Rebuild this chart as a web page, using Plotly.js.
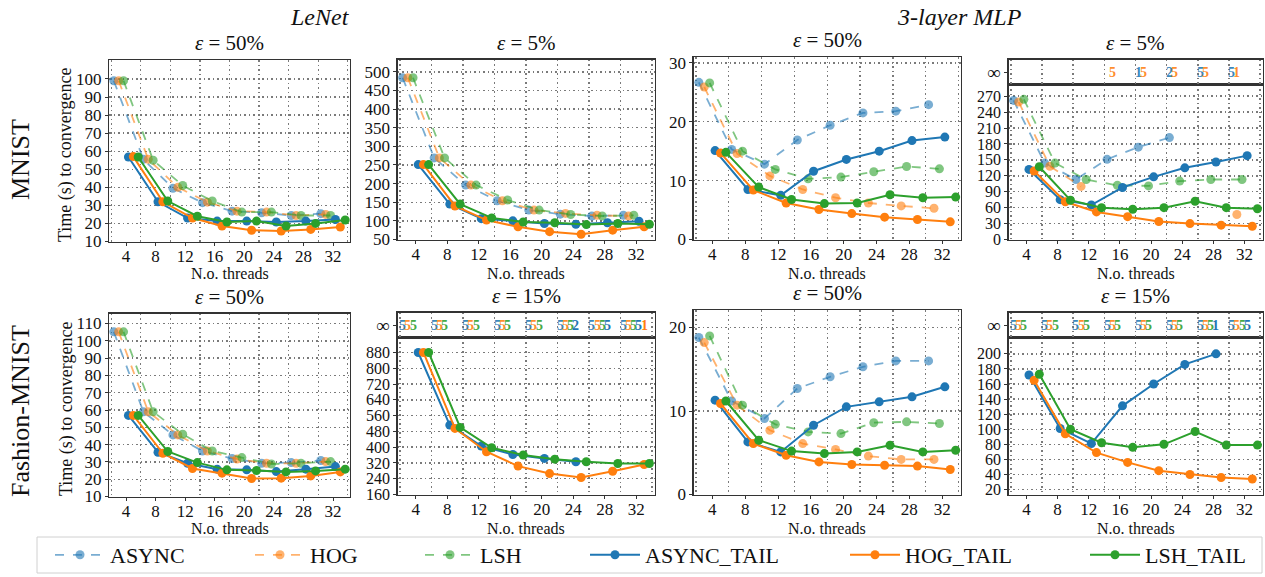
<!DOCTYPE html>
<html><head><meta charset="utf-8">
<script src="https://cdn.plot.ly/plotly-3.0.1.min.js"></script>
<style>html,body{margin:0;padding:0;background:#fff}#chart{width:1265px;height:577px}</style>
</head><body><div id="chart"></div>
<script>
// ---------------- DATA ----------------
const seriesNames = ['ASYNC', 'HOG', 'LSH', 'ASYNC_TAIL', 'HOG_TAIL', 'LSH_TAIL'];
const threads = [4, 8, 12, 16, 20, 24, 28, 32];
const panelTitles = ['50%', '5%', '50%', '5%', '50%', '15%', '50%', '15%'];
const columnHeaders = ['LeNet', '3-layer MLP'];
const rowLabels = ['MNIST', 'Fashion-MNIST'];

// rows: ASYNC, HOG, LSH, ASYNC_TAIL, HOG_TAIL, LSH_TAIL  (values per thread count)
const lenetMnistE50 = [
  [99, 55.5, 39.5, 31.5, 26.8, 25.9, 24.4, 25.4],
  [99, 55.5, 40, 31.8, 26.8, 26.3, 24.4, 25],
  [99, 55, 41, 32.4, 26.3, 26.3, 24.4, 24.4],
  [56.8, 32, 23, 21.3, 21.3, 20.8, 21.3, 22.2],
  [57, 32, 23, 18.6, 16.2, 15.8, 16.7, 18],
  [56.8, 32.4, 24, 20.8, 21.3, 18.6, 20, 21.9]
];
const lenetMnistE5 = [
  [484, 269, 196, 154, 129, 118, 113, 115],
  [484, 269, 196, 154, 129, 120, 115, 113],
  [484, 269, 196, 156, 129, 117, 113, 115],
  [251, 145, 106, 100, 93, 91, 95, 99],
  [251, 140, 102, 84, 71, 64, 75, 84],
  [251, 145, 108, 97, 95, 90, 93, 91]
];
const mlpMnistE50 = [
  [26.7, 15.3, 12.8, 16.9, 19.4, 21.5, 21.8, 22.9],
  [25.9, 14.6, 10.8, 8.5, 7.1, 6.2, 5.7, 5.3],
  [26.6, 15, 11.9, 10.3, 10.6, 11.5, 12.4, 12],
  [15.1, 8.5, 7.5, 11.6, 13.6, 15, 16.8, 17.4],
  [14.7, 8.4, 6.2, 5.1, 4.4, 3.8, 3.4, 3.0],
  [14.8, 8.9, 6.8, 6.1, 6.2, 7.6, 7.1, 7.2]
];
const mlpMnistE5 = [
  [262, 144, 113, 151, 174, 192, null, null],
  [259, 138, 100, null, null, null, null, 47],
  [264, 144, 113, 102, 101, 110, 113, 113],
  [132, 75, 65, 98, 118, 135, 146, 158],
  [129, 71, 52, 43, 34, 30, 27, 25],
  [137, 74, 60, 57, 60, 72, 60, 58]
];
const lenetFashionE50 = [
  [105.2, 59, 45.6, 36.3, 32, 29.2, 29.6, 30.8],
  [105.2, 59, 45.6, 36.3, 31.7, 29.2, 29.2, 30.2],
  [105.2, 59, 46, 36.3, 32.5, 28.8, 29.2, 30.2],
  [56.9, 35.6, 29.2, 25.8, 25.4, 24.4, 25.8, 27.3],
  [56.9, 35, 26.2, 23.5, 20.4, 20.6, 21.9, 24.2],
  [56.9, 36, 29.6, 25.4, 25, 24.2, 24.8, 25.8]
];
const lenetFashionE15 = [
  [null, null, null, null, null, null, null, null],
  [null, null, null, null, null, null, null, null],
  [null, null, null, null, null, null, null, null],
  [880, 512, 406, 363, 343, 326, null, null],
  [880, 495, 377, 304, 266, 246, 278, 312],
  [880, 500, 397, 360, 339, 326, 317, 317]
];
const mlpFashionE50 = [
  [18.8, 11.2, 9.1, 12.7, 14.1, 15.3, 16.0, 16.0],
  [18.2, 10.7, 7.7, 6.1, 5.4, 4.6, 4.2, 4.2],
  [19.0, 10.7, 8.4, 7.5, 7.3, 8.6, 8.7, 8.5],
  [11.3, 6.3, 5.1, 8.3, 10.5, 11.1, 11.7, 12.9],
  [10.9, 6.1, 4.7, 3.9, 3.6, 3.5, 3.4, 3.0],
  [11.2, 6.5, 5.2, 4.9, 5.1, 5.9, 5.1, 5.3]
];
const mlpFashionE15 = [
  [null, null, null, null, null, null, null, null],
  [null, null, null, null, null, null, null, null],
  [null, null, null, null, null, null, null, null],
  [172, 101, 81, 131, 160, 186, 200, null],
  [165, 94, 69, 56, 45, 40, 36, 34],
  [173, 100, 82, 76, 80, 97, 79, 79]
];
// number of runs (of 5) that never converged ("∞" row)
const infMlpMnistE5 = [
  [null, null, null, null, 1, 2, 5, 5],
  [null, null, null, 5, 5, 5, 5, 1],
  [null, null, null, null, null, null, null, null],
  [null, null, null, null, null, null, null, null],
  [null, null, null, null, null, null, null, null],
  [null, null, null, null, null, null, null, null]
];
const infLenetFashionE15 = [
  [5, 5, 5, 5, 5, 5, 5, 5],
  [5, 5, 5, 5, 5, 5, 5, 5],
  [5, 5, 5, 5, 5, 5, 5, 5],
  [null, null, null, null, null, 2, 5, 5],
  [null, null, null, null, null, null, null, 1],
  [null, null, null, null, null, null, null, null]
];
const infMlpFashionE15 = [
  [5, 5, 5, 5, 5, 5, 5, 5],
  [5, 5, 5, 5, 5, 5, 5, 5],
  [5, 5, 5, 5, 5, 5, 5, 5],
  [null, null, null, null, null, null, 1, 5],
  [null, null, null, null, null, null, null, null],
  [null, null, null, null, null, null, null, null]
];
const yTicks1 = [10, 20, 30, 40, 50, 60, 70, 80, 90, 100];
const yTicks2 = [50, 100, 150, 200, 250, 300, 350, 400, 450, 500];
const yTicks3 = [0, 10, 20, 30];
const yTicks4 = [0, 30, 60, 90, 120, 150, 180, 210, 240, 270];
const yTicks5 = [10, 20, 30, 40, 50, 60, 70, 80, 90, 100, 110];
const yTicks6 = [160, 240, 320, 400, 480, 560, 640, 720, 800, 880];
const yTicks7 = [0, 10, 20];
const yTicks8 = [20, 40, 60, 80, 100, 120, 140, 160, 180, 200];

// ---------------- STYLE / LAYOUT ----------------
const W = 1265, H = 577;
const fx = p => p / W, fy = p => 1 - p / H;
const FONT = "'Liberation Serif', 'Times New Roman', Times, serif";
const solidCol = ['#1f77b4', '#ff7f0e', '#2ca02c'];
const lightCol = ['rgba(31,119,180,0.6)', 'rgba(255,127,14,0.6)', 'rgba(44,160,44,0.6)'];
const textCol = ['rgba(31,119,180,0.9)', 'rgba(255,127,14,0.9)', 'rgba(44,160,44,0.9)', '#1f77b4', '#ff7f0e', '#2ca02c'];
const seriesColor = i => i < 3 ? lightCol[i] : solidCol[i - 3];
const offset = i => (i - 2.5) * 0.66;

const cols = [[109, 350], [397.5, 654.5], [693.5, 961], [1008.5, 1262.5]];
const panels = [
  {d: lenetMnistE50, c: 0, top: 60, bot: 241.5, yt: yTicks1, yr: [10, 110.5], fs: 17},
  {d: lenetMnistE5, c: 1, top: 59.5, bot: 239.5, yt: yTicks2, yr: [50, 533], fs: 17},
  {d: mlpMnistE50, c: 2, top: 57, bot: 239.5, yt: yTicks3, yr: [0, 31], fs: 17},
  {d: mlpMnistE5, c: 3, top: 84.5, bot: 239.5, yt: yTicks4, yr: [0, 292], strip: [59.5, 84.5], inf: infMlpMnistE5, fs: 16},
  {d: lenetFashionE50, c: 0, top: 313.5, bot: 496.5, yt: yTicks5, yr: [10, 115.8], fs: 17},
  {d: lenetFashionE15, c: 1, top: 337.5, bot: 494.5, yt: yTicks6, yr: [160, 956], strip: [312.5, 337.5], inf: infLenetFashionE15, fs: 16},
  {d: mlpFashionE50, c: 2, top: 310, bot: 494.5, yt: yTicks7, yr: [0, 22.1], fs: 17},
  {d: mlpFashionE15, c: 3, top: 337.5, bot: 494.5, yt: yTicks8, yr: [13.4, 221.7], strip: [312.5, 337.5], inf: infMlpFashionE15, fs: 16}
];
const XR = [1.7, 34.3];
const axBase = {
  showline: true, linecolor: '#333', linewidth: 1.2, mirror: true,
  ticks: 'outside', ticklen: 3, tickcolor: '#333', tickwidth: 1,
  tickfont: {family: FONT, size: 17, color: '#111'}, zeroline: false, fixedrange: true
};
const GRIDC = '#7a7a7a', GRIDD = '1.5px,3px';
const gridOpts = {showgrid: true, gridcolor: GRIDC, griddash: GRIDD, gridwidth: 1.4};
const minorGrid = {tickmode: 'linear', tick0: 2, dtick: 4, ticks: '', showgrid: true, gridcolor: GRIDC, griddash: GRIDD, gridwidth: 1.4};

const traces = [];
const layout = {
  width: W, height: H, margin: {l: 0, r: 0, t: 0, b: 0},
  paper_bgcolor: '#fff', plot_bgcolor: '#fff', showlegend: true,
  font: {family: FONT, color: '#111'},
  annotations: [], shapes: []
};

let stripId = 9;
panels.forEach((p, k) => {
  const n = k + 1;
  const xd = [fx(cols[p.c][0]), fx(cols[p.c][1])];
  layout['xaxis' + n] = Object.assign({}, axBase, {
    domain: xd, range: XR, tickvals: threads, showgrid: false, minor: minorGrid, anchor: 'y' + n,
    ticklabelstandoff: -4
  });
  layout['yaxis' + n] = Object.assign({}, axBase, gridOpts, {
    domain: [fy(p.bot), fy(p.top)], range: p.yr, tickvals: p.yt, anchor: 'x' + n,
    tickfont: {family: FONT, size: p.fs, color: '#111'}
  });
  p.d.forEach((vals, i) => {
    traces.push({
      type: 'scatter', mode: 'lines+markers', name: seriesNames[i],
      x: threads.map(t => t + offset(i)), y: vals,
      xaxis: 'x' + n, yaxis: 'y' + n,
      line: {color: seriesColor(i), width: i < 3 ? 1.8 : 2, dash: i < 3 ? 'dash' : 'solid'},
      marker: {color: seriesColor(i), size: 9},
      showlegend: n === 1, legend: i === 0 ? 'legend' : 'legend' + (i + 1),
      hoverinfo: 'skip', cliponaxis: false
    });
  });
  let titleTop = p.top;
  if (p.strip) {
    const s = stripId++;
    titleTop = p.strip[0];
    layout['xaxis' + s] = Object.assign({}, axBase, {
      domain: xd, range: XR, tickvals: [], showticklabels: false, ticks: '', showgrid: false,
      minor: minorGrid, anchor: 'y' + s
    });
    layout['yaxis' + s] = Object.assign({}, axBase, {
      domain: [fy(p.strip[1]), fy(p.strip[0])], range: [0, 1], tickvals: [0.5], ticktext: ['∞'],
      showgrid: false, anchor: 'x' + s, tickfont: {family: FONT, size: 19, color: '#111'}
    });
    p.inf.forEach((vals, i) => {
      vals.forEach((v, j) => {
        if (v === null) return;
        layout.annotations.push({
          xref: 'x' + s, yref: 'y' + s, x: threads[j] + offset(i), y: 0.5,
          text: '<b>' + v + '</b>', showarrow: false, xanchor: 'center', yanchor: 'middle',
          font: {family: FONT, size: 14, color: textCol[i]}
        });
      });
    });
  }
  // subplot title
  layout.annotations.push({
    xref: 'paper', yref: 'paper', x: (xd[0] + xd[1]) / 2, y: fy(titleTop - 3),
    xanchor: 'center', yanchor: 'bottom', showarrow: false,
    text: '<i>ε</i> = ' + panelTitles[k], font: {family: FONT, size: 21, color: '#111'}
  });
  // x axis title
  layout.annotations.push({
    xref: 'paper', yref: 'paper', x: (xd[0] + xd[1]) / 2, y: fy(k < 4 ? 273 : 528),
    xanchor: 'center', yanchor: 'middle', showarrow: false,
    text: 'N.o. threads', font: {family: FONT, size: 16, color: '#111'}
  });
});

// column headers, row labels, y titles
layout.annotations.push(
  {xref: 'paper', yref: 'paper', x: fx(320), y: fy(17), xanchor: 'center', yanchor: 'middle', showarrow: false,
   text: '<i>' + columnHeaders[0] + '</i>', font: {family: FONT, size: 24, color: '#111'}},
  {xref: 'paper', yref: 'paper', x: fx(960), y: fy(17), xanchor: 'center', yanchor: 'middle', showarrow: false,
   text: '<i>' + columnHeaders[1] + '</i>', font: {family: FONT, size: 24, color: '#111'}},
  {xref: 'paper', yref: 'paper', x: fx(20), y: fy(160), xanchor: 'center', yanchor: 'middle', showarrow: false,
   textangle: -90, text: rowLabels[0], font: {family: FONT, size: 26, color: '#111'}},
  {xref: 'paper', yref: 'paper', x: fx(20), y: fy(411), xanchor: 'center', yanchor: 'middle', showarrow: false,
   textangle: -90, text: rowLabels[1], font: {family: FONT, size: 26, color: '#111'}},
  {xref: 'paper', yref: 'paper', x: fx(66), y: fy(155), xanchor: 'center', yanchor: 'middle', showarrow: false,
   textangle: -90, text: 'Time (s) to convergence', font: {family: FONT, size: 18, color: '#111'}},
  {xref: 'paper', yref: 'paper', x: fx(66), y: fy(409), xanchor: 'center', yanchor: 'middle', showarrow: false,
   textangle: -90, text: 'Time (s) to convergence', font: {family: FONT, size: 18, color: '#111'}}
);

// legend frame and legends (one per entry, placed along the bottom)
layout.shapes.push({type: 'rect', xref: 'paper', yref: 'paper', x0: fx(37), x1: fx(1262), y0: fy(573), y1: fy(537),
  line: {color: '#d0d0d0', width: 1}, fillcolor: 'rgba(0,0,0,0)'});
const legendX = [50, 250, 420, 585, 845, 1085];
legendX.forEach((lx, i) => {
  layout[i === 0 ? 'legend' : 'legend' + (i + 1)] = {
    x: fx(lx), y: fy(555), xanchor: 'left', yanchor: 'middle', orientation: 'h',
    bgcolor: 'rgba(0,0,0,0)', borderwidth: 0, itemwidth: 50,
    font: {family: FONT, size: 22, color: '#111'}
  };
});

Plotly.newPlot('chart', traces, layout, {displayModeBar: false, staticPlot: true});
</script>
</body></html>
